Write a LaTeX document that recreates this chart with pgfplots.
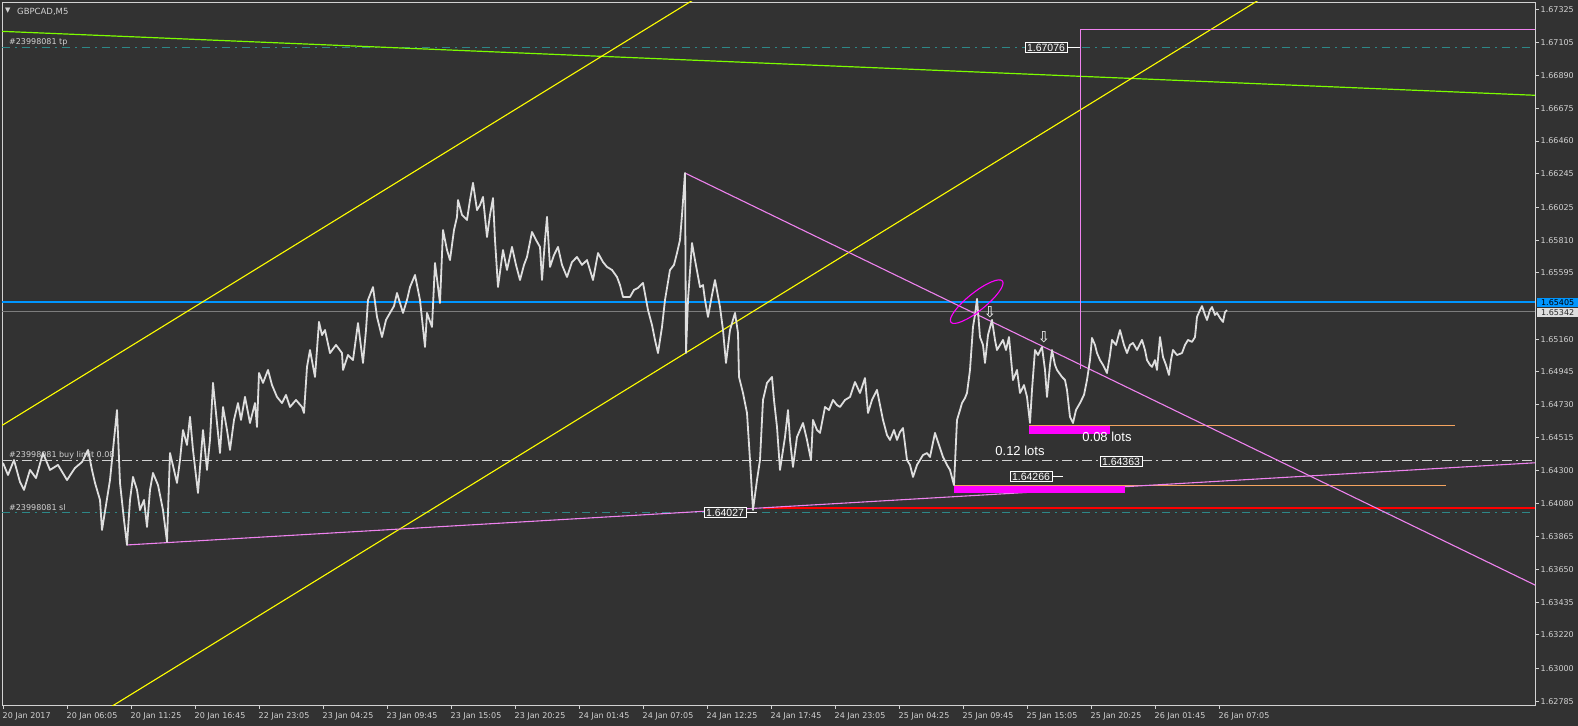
\documentclass[border=0pt]{standalone}
\usepackage{fontspec}
\setmainfont{Liberation Sans}
\newfontfamily\dejavu{DejaVu Sans}
\usepackage{pgfplots}
\pgfplotsset{compat=1.18}
\definecolor{bg}{RGB}{50,50,50}
\definecolor{fg}{RGB}{210,210,210}
\definecolor{pricecol}{RGB}{222,222,222}
\definecolor{lgreen}{RGB}{124,252,0}
\definecolor{teal2}{RGB}{45,135,135}
\definecolor{violet2}{RGB}{238,130,238}
\definecolor{bluelevel}{RGB}{0,150,255}
\definecolor{sandy}{RGB}{244,164,96}
\definecolor{mag}{RGB}{255,0,255}
\definecolor{bidgray}{RGB}{125,125,125}
\definecolor{yel}{RGB}{255,255,0}
\begin{document}
\begin{tikzpicture}
\fill[bg] (0,0) rectangle (1578bp,726bp);
\useasboundingbox (0,0) rectangle (1578bp,726bp);
\begin{axis}[
  at={(2bp,21bp)}, anchor=south west,
  scale only axis, width=1533bp, height=703bp,
  xmin=2, xmax=1535, ymin=1.62760, ymax=1.67372,
  clip mode=individual,
  axis line style={fg, line width=0.9bp},
  tick style={fg, line width=0.9bp},
  tick align=outside, major tick length=4bp,
  xtick pos=lower, ytick pos=upper, xticklabel pos=lower, yticklabel pos=upper,
  xtick={3.5,67.5,131.5,195.5,259.5,323.5,387.5,451.5,515.5,579.5,643.5,707.5,771.5,835.5,899.5,963.5,1027.5,1091.5,1155.5,1219.5},
  xticklabels={20 Jan 2017,20 Jan 06:05,20 Jan 11:25,20 Jan 16:45,22 Jan 23:05,23 Jan 04:25,23 Jan 09:45,23 Jan 15:05,23 Jan 20:25,24 Jan 01:45,24 Jan 07:05,24 Jan 12:25,24 Jan 17:45,24 Jan 23:05,25 Jan 04:25,25 Jan 09:45,25 Jan 15:05,25 Jan 20:25,26 Jan 01:45,26 Jan 07:05},
  ytick={1.67325,1.67105,1.66890,1.66675,1.66460,1.66245,1.66025,1.65810,1.65595,1.65160,1.64945,1.64730,1.64515,1.64300,1.64080,1.63865,1.63650,1.63435,1.63220,1.63000,1.62785},
  yticklabels={1.67325,1.67105,1.66890,1.66675,1.66460,1.66245,1.66025,1.65810,1.65595,1.65160,1.64945,1.64730,1.64515,1.64300,1.64080,1.63865,1.63650,1.63435,1.63220,1.63000,1.62785},
  xticklabel style={anchor=north west, inner sep=0pt, xshift=-1bp, yshift=-3bp, text=fg, font=\dejavu\fontsize{8bp}{9bp}\selectfont},
  yticklabel style={anchor=west, inner sep=0pt, xshift=1.5bp, text=fg, font=\dejavu\fontsize{8bp}{9bp}\selectfont},
  scaled y ticks=false,
]
% horizontal levels
\addplot[teal2, line width=1.1bp, dash pattern=on 8bp off 5bp on 2bp off 5bp] coordinates {(2,1.67076) (1535,1.67076)};
\addplot[teal2, line width=1.1bp, dash pattern=on 8bp off 5bp on 2bp off 5bp] coordinates {(2,1.64020) (1535,1.64020)};
\addplot[fg, line width=1.1bp, dash pattern=on 10bp off 4bp on 2bp off 4bp] coordinates {(2,1.64363) (1535,1.64363)};
\addplot[draw=bluelevel, line width=1.5bp] coordinates {(2,1.65405) (1535,1.65405)};
\addplot[draw=bidgray, line width=1.1bp] coordinates {(2,1.65342) (1535,1.65342)};
\addplot[red, line width=1.6bp] coordinates {(763,1.64051) (1535,1.64051)};
\addplot[sandy, line width=1.1bp] coordinates {(1029,1.64595) (1455,1.64595)};
\addplot[sandy, line width=1.1bp] coordinates {(954,1.64201) (1446,1.64201)};
% trend lines
\addplot[lgreen, line width=1.2bp] coordinates {(0,1.67180) (1535,1.66760)};
\addplot[yel, line width=1.1bp] coordinates {(0,1.64586) (700,1.67413)};
\addplot[yel, line width=1.1bp] coordinates {(110,1.62744) (1260,1.67390)};
\addplot[violet2, line width=1.1bp] coordinates {(685,1.66250) (1535,1.63547)};
\addplot[violet2, line width=1.1bp] coordinates {(127,1.63810) (1535,1.64349)};
\addplot[draw=violet2, line width=1.2bp] coordinates {(1080.7,1.64964) (1080.7,1.67193) (1535,1.67193)};
% order boxes
\addplot[fill=mag, draw=none] coordinates {(1029,1.64592) (1110,1.64592) (1110,1.64536) (1029,1.64536)} --cycle;
\addplot[fill=mag, draw=none] coordinates {(954,1.64197) (1125,1.64197) (1125,1.64149) (954,1.64149)} --cycle;
% labels on the left
\node[anchor=west, inner sep=0pt, text=fg, font=\dejavu\fontsize{8bp}{9bp}\selectfont] at (axis cs:9,1.67105) {\#23998081 tp};
\node[anchor=west, inner sep=0pt, text=fg, font=\dejavu\fontsize{8bp}{9bp}\selectfont] at (axis cs:9,1.64400) {\#23998081 buy limit 0.08};
\node[anchor=west, inner sep=0pt, text=fg, font=\dejavu\fontsize{8bp}{9bp}\selectfont] at (axis cs:9,1.64055) {\#23998081 sl};
% price
\addplot[pricecol, line width=1.8bp, line join=round] coordinates {
(3,1.64348) (8,1.64269) (14,1.64367) (20,1.64223) (24,1.64171) (30,1.64302) (36,1.64249) (43,1.64413) (50,1.64302) (58,1.64335)
(67,1.64236) (75,1.64315) (82,1.64354) (88,1.64433) (92,1.64302) (95,1.64217) (100,1.64105) (102,1.63908) (106,1.64072) (110,1.64236)
(114,1.64499) (117,1.64695) (120,1.64217) (124,1.63974) (127,1.63810) (130,1.64105) (133,1.64256) (137,1.64171) (140,1.64039) (144,1.64105)
(147,1.63928) (150,1.64171) (153,1.64282) (158,1.64203) (163,1.64039) (167,1.63830) (170,1.64413) (174,1.64302) (177,1.64217) (180,1.64367)
(183,1.64564) (187,1.64466) (190,1.64650) (193,1.64433) (198,1.64151) (203,1.64564) (207,1.64302) (210,1.64499) (213,1.64873) (217,1.64610)
(220,1.64413) (223,1.64715) (227,1.64564) (230,1.64433) (234,1.64630) (238,1.64741) (241,1.64630) (245,1.64781) (250,1.64610) (255,1.64741)
(257,1.64584) (259,1.64938) (263,1.64873) (268,1.64958) (272,1.64859) (277,1.64781) (282,1.64741) (286,1.64794) (290,1.64715) (296,1.64761)
(302,1.64715) (304,1.64676) (307,1.64978) (310,1.65089) (315,1.64912) (319,1.65273) (322,1.65187) (325,1.65220) (330,1.65069) (336,1.65122)
(342,1.65069) (343,1.64958) (348,1.65056) (353,1.65023) (358,1.65266) (363,1.65004) (366,1.65220) (368,1.65417) (373,1.65502) (377,1.65306)
(382,1.65174) (386,1.65286) (390,1.65332) (394,1.65377) (397,1.65463) (403,1.65332) (407,1.65417) (410,1.65502) (415,1.65581) (420,1.65417)
(425,1.65109) (427,1.65332) (432,1.65240) (435,1.65660) (440,1.65397) (443,1.65876) (447,1.65745) (450,1.65679) (454,1.65876) (457,1.65962)
(458,1.66073) (462,1.65975) (467,1.65942) (470,1.66073) (473,1.66185) (477,1.66007) (480,1.66040) (483,1.66093) (487,1.65830) (490,1.65975)
(493,1.66086) (495,1.65811) (498,1.65502) (503,1.65745) (507,1.65614) (512,1.65765) (516,1.65647) (520,1.65548) (524,1.65647) (527,1.65699)
(532,1.65863) (536,1.65811) (540,1.65765) (542,1.65548) (545,1.65811) (547,1.65962) (550,1.65634) (554,1.65712) (558,1.65765) (562,1.65647)
(567,1.65568) (572,1.65666) (577,1.65699) (582,1.65647) (587,1.65679) (590,1.65614) (593,1.65548) (598,1.65725) (603,1.65666) (607,1.65634)
(612,1.65614) (617,1.65568) (620,1.65515) (623,1.65437) (627,1.65437) (630,1.65437) (634,1.65483) (638,1.65496) (643,1.65529) (648,1.65351)
(652,1.65253) (655,1.65155) (658,1.65069) (662,1.65240) (665,1.65417) (670,1.65614) (674,1.65647) (677,1.65725) (680,1.65811) (682,1.65975)
(685,1.66250) (686,1.65069) (688,1.65417) (692,1.65791) (695,1.65679) (700,1.65502) (703,1.65515) (705,1.65417) (708,1.65306) (712,1.65450)
(715,1.65548) (720,1.65371) (723,1.65220) (726,1.65004) (730,1.65220) (735,1.65332) (738,1.65201) (739,1.64912) (743,1.64807) (747,1.64676)
(750,1.64367) (753,1.64039) (757,1.64236) (760,1.64367) (763,1.64761) (767,1.64873) (772,1.64912) (774,1.64761) (777,1.64584) (780,1.64302)
(785,1.64518) (788,1.64695) (790,1.64499) (793,1.64322) (797,1.64518) (800,1.64564) (803,1.64610) (807,1.64499) (811,1.64367) (813,1.64630)
(817,1.64564) (820,1.64545) (825,1.64715) (829,1.64695) (833,1.64761) (837,1.64728) (840,1.64715) (845,1.64761) (850,1.64781) (855,1.64879)
(860,1.64807) (865,1.64905) (868,1.64676) (872,1.64761) (877,1.64827) (880,1.64728) (883,1.64630) (887,1.64531) (890,1.64499) (894,1.64564)
(897,1.64499) (900,1.64551) (903,1.64577) (907,1.64367) (910,1.64335) (913,1.64256) (917,1.64335) (920,1.64367) (923,1.64400) (927,1.64413)
(930,1.64387) (935,1.64545) (939,1.64466) (943,1.64387) (947,1.64335) (950,1.64302) (954,1.64203) (957,1.64630) (960,1.64695) (962,1.64741)
(965,1.64774) (967,1.64807) (970,1.64958) (973,1.65240) (975,1.65319) (977,1.65424) (980,1.65174) (983,1.65122) (985,1.65004) (988,1.65187)
(992,1.65286) (995,1.65155) (997,1.65089) (1000,1.65122) (1003,1.65155) (1006,1.65089) (1009,1.65174) (1013,1.64892) (1017,1.64958) (1020,1.64807)
(1024,1.64859) (1027,1.64781) (1030,1.64610) (1032,1.64827) (1035,1.65089) (1038,1.65056) (1042,1.65109) (1045,1.64958) (1047,1.64781) (1050,1.64991)
(1052,1.65089) (1055,1.64991) (1057,1.64958) (1062,1.64912) (1065,1.64892) (1067,1.64827) (1070,1.64650) (1073,1.64610) (1076,1.64695) (1080,1.64741)
(1084,1.64794) (1087,1.64892) (1090,1.65023) (1092,1.65168) (1095,1.65122) (1097,1.65069) (1100,1.65023) (1103,1.64991) (1107,1.64938) (1110,1.65056)
(1112,1.65155) (1116,1.65122) (1120,1.65220) (1124,1.65122) (1127,1.65069) (1130,1.65122) (1133,1.65135) (1137,1.65089) (1142,1.65155) (1145,1.65089)
(1147,1.65023) (1150,1.64991) (1152,1.64978) (1155,1.65023) (1157,1.64958) (1160,1.65174) (1163,1.65043) (1166,1.64991) (1169,1.64925) (1171,1.65023)
(1173,1.65089) (1177,1.65056) (1182,1.65069) (1185,1.65122) (1188,1.65155) (1192,1.65142) (1195,1.65174) (1197,1.65306) (1200,1.65351) (1202,1.65377)
(1205,1.65319) (1207,1.65286) (1210,1.65351) (1212,1.65371) (1215,1.65319) (1217,1.65332) (1220,1.65299) (1223,1.65273) (1225,1.65338) (1227,1.65351)
};
% annotations
\draw[mag, line width=1.1bp, rotate around={38.7:(axis cs:976.7,1.65406)}] (axis cs:976.7,1.65406) ellipse [x radius=33bp, y radius=9bp];
\node[text=white, inner sep=0pt, font=\dejavu\fontsize{15bp}{15bp}\selectfont] at (axis cs:990,1.65340) {⇩};
\node[text=white, inner sep=0pt, font=\dejavu\fontsize{15bp}{15bp}\selectfont] at (axis cs:1044,1.65170) {⇩};
\node[text=white, inner sep=0pt, font=\fontsize{13bp}{14bp}\selectfont] at (axis cs:1107,1.64518) {0.08 lots};
\node[text=white, inner sep=0pt, font=\fontsize{13bp}{14bp}\selectfont] at (axis cs:1020,1.64427) {0.12 lots};
\node[draw=white, fill=bg, text=white, inner xsep=2bp, inner ysep=1bp, line width=0.9bp, font=\fontsize{10.5bp}{11bp}\selectfont] at (axis cs:1121,1.64358) {1.64363};
\addplot[white, line width=0.9bp] coordinates {(1052,1.64258) (1063,1.64258)};
\node[draw=white, fill=bg, text=white, inner xsep=2bp, inner ysep=1bp, line width=0.9bp, font=\fontsize{10.5bp}{11bp}\selectfont] at (axis cs:1031,1.64258) {1.64266};
\addplot[white, line width=0.9bp] coordinates {(747,1.64023) (757,1.64023)};
\node[draw=white, fill=bg, text=white, inner xsep=2bp, inner ysep=1bp, line width=0.9bp, font=\fontsize{10.5bp}{11bp}\selectfont] at (axis cs:725,1.64023) {1.64027};
\addplot[white, line width=0.9bp] coordinates {(1067,1.67073) (1080,1.67073)};
\node[draw=white, fill=bg, text=white, inner xsep=2bp, inner ysep=1bp, line width=0.9bp, font=\fontsize{10.5bp}{11bp}\selectfont] at (axis cs:1046,1.67073) {1.67076};
% title
\node[anchor=west, inner sep=0pt, text=fg, font=\dejavu\fontsize{7bp}{8bp}\selectfont] at (axis cs:5,1.67316) {▼};
\node[anchor=west, inner sep=0pt, text=fg, font=\dejavu\fontsize{8.5bp}{10bp}\selectfont] at (axis cs:17,1.67308) {GBPCAD,M5};
% current price labels on the scale
\node[anchor=west, fill=bluelevel, text=black, inner sep=0pt, minimum width=41bp, minimum height=9.6bp, font=\dejavu\fontsize{8bp}{9bp}\selectfont] at (axis cs:1537,1.65401) {1.65405};
\node[anchor=west, fill={rgb,255:red,222;green,222;blue,222}, text={rgb,255:red,40;green,40;blue,40}, inner sep=0pt, minimum width=41bp, minimum height=9bp, font=\dejavu\fontsize{8bp}{9bp}\selectfont] at (axis cs:1537,1.65333) {1.65342};
\end{axis}
\end{tikzpicture}
\end{document}
